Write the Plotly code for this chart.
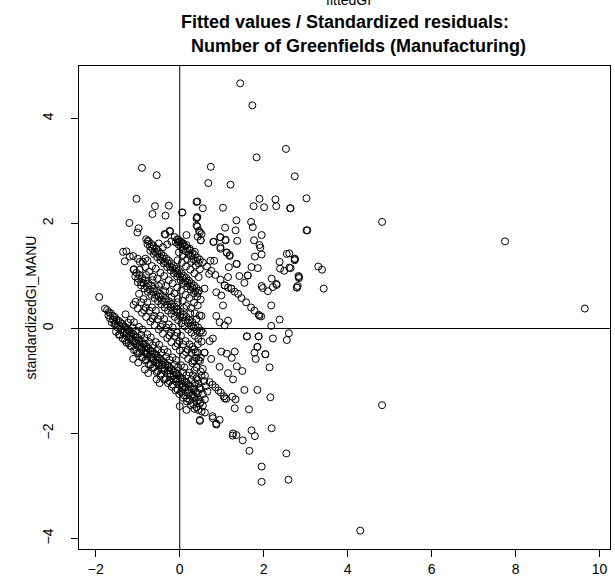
import plotly.graph_objects as go

# ---- data (fittedGI, standardizedGI_MANU) ----
band0_x = [-1.92,-1.78,-1.73,-1.69,-1.64,-1.60,-1.55,-1.51,-1.46,-1.42,-1.37,-1.33,-1.28,-1.24,-1.19,-1.15,-1.10,-1.06,-1.01,-0.97,-0.92,-0.88,-0.83,-0.79,-0.74,-0.70,-0.65,-0.61,-0.56,-0.52,-0.47,-0.43,-0.38,-0.34,-0.29,-0.25,-0.20,-0.16,-0.11,-0.07,-0.02,0.02,0.07,0.11,0.16,0.20,0.25,0.29,0.34,0.38,0.43,
           -1.62,-1.55,-1.48,-1.41,-1.34,-1.27,-1.20,-1.13,-1.06,-0.99,-0.92,-0.85,-0.78,-0.71,-0.64,-0.57,-0.50,-0.43,-0.36,-0.29,-0.22,-0.15,-0.08,-0.01,0.06,0.13,0.20,0.27,0.34,0.41,0.48,0.55,
           -1.45,-1.36,-1.27,-1.18,-1.09,-1.00,-0.91,-0.82,-0.73,-0.64,-0.55,-0.46,-0.37,-0.28,-0.19,-0.10,-0.01,0.08,0.17,0.26,0.35,0.44,0.52,0.60,
           -1.11,-0.99,-0.83,-0.75,-0.55,-0.48,0.00,0.16,0.48,0.78,0.87]
band0_y = [0.60,0.38,0.35,0.31,0.29,0.24,0.22,0.17,0.15,0.12,0.09,0.04,0.02,-0.02,-0.04,-0.09,-0.11,-0.15,-0.17,-0.22,-0.24,-0.29,-0.30,-0.35,-0.38,-0.42,-0.44,-0.48,-0.50,-0.55,-0.57,-0.61,-0.64,-0.68,-0.70,-0.74,-0.77,-0.81,-0.83,-0.87,-0.90,-0.94,-0.96,-1.01,-1.03,-1.07,-1.10,-1.14,-1.16,-1.21,-1.23,
           0.12,0.08,0.02,-0.03,-0.08,-0.14,-0.18,-0.24,-0.28,-0.34,-0.39,-0.45,-0.49,-0.55,-0.60,-0.65,-0.70,-0.76,-0.80,-0.86,-0.91,-0.97,-1.01,-1.07,-1.12,-1.17,-1.22,-1.28,-1.32,-1.38,-1.43,-1.47,
           -0.12,-0.19,-0.27,-0.33,-0.41,-0.47,-0.55,-0.61,-0.69,-0.75,-0.83,-0.90,-0.97,-1.04,-1.11,-1.18,-1.25,-1.32,-1.39,-1.46,-1.53,-1.55,-1.58,-1.60,
           -0.58,-0.65,-0.78,-0.85,-0.97,-1.04,-1.48,-1.55,-1.74,-1.67,-1.81]

band0_fill_x = [-1.70,-1.66,-1.58,-1.53,-1.44,-1.39,-1.31,-1.26,-1.17,-1.13,-1.04,-0.95,-0.90,-0.81,-0.77,-0.68,-0.63,-0.54,-0.49,-0.41,-0.36,-0.27,-0.23,-0.14,-0.09,-0.04,0.04,0.09,0.14,0.22,0.31,0.36,0.46,0.50,
                -1.52,-1.43,-1.30,-1.22,-1.15,-1.03,-0.96,-0.88,-0.80,-0.69,-0.61,-0.52,-0.45,-0.33,-0.25,-0.17,-0.05,0.03,0.10,0.17,0.24,0.32,0.40,
                -1.23,-1.12,-1.04,-0.92,-0.84,-0.72,-0.64,-0.52,-0.44,-0.32,-0.24,-0.12,-0.04,0.08,0.16,0.28,0.36,0.47,
                -1.29,-1.17,-1.09,-0.97,-0.89,-0.77,-0.69,-0.57,-0.49,-0.37,-0.29,-0.17,-0.09,0.03,0.11,0.23,0.31,0.43]
band0_fill_y = [0.25,0.19,0.16,0.09,0.06,-0.01,-0.05,-0.10,-0.14,-0.20,-0.24,-0.31,-0.36,-0.41,-0.46,-0.50,-0.56,-0.60,-0.66,-0.70,-0.76,-0.80,-0.86,-0.90,-0.96,-0.97,-1.05,-1.09,-1.12,-1.17,-1.25,-1.30,-1.36,-1.40,
                -0.06,-0.12,-0.22,-0.28,-0.34,-0.43,-0.47,-0.55,-0.59,-0.69,-0.74,-0.81,-0.86,-0.95,-1.00,-1.07,-1.16,-1.21,-1.27,-1.33,-1.37,-1.44,-1.50,
                0.11,0.02,-0.04,-0.12,-0.18,-0.26,-0.32,-0.40,-0.46,-0.54,-0.60,-0.69,-0.74,-0.84,-0.89,-0.98,-1.04,-1.13,
                0.27,0.17,0.12,0.03,-0.02,-0.11,-0.17,-0.26,-0.31,-0.40,-0.45,-0.55,-0.60,-0.70,-0.74,-0.84,-0.89,-0.98]

band1_x = [-1.10,-1.03,-0.96,-0.89,-0.82,-0.75,-0.68,-0.61,-0.54,-0.47,-0.40,-0.33,-0.26,-0.19,-0.12,-0.05,0.02,0.09,0.16,0.23,0.30,0.37,0.44,0.51,
           -1.00,-0.92,-0.84,-0.76,-0.68,-0.60,-0.52,-0.44,-0.36,-0.28,-0.20,-0.12,-0.04,0.04,0.12,0.20,0.28,0.36,0.44,0.52,
           -1.10,-1.00,-0.90,-0.80,-0.70,-0.60,-0.50,-0.40,-0.30,-0.20,-0.10,0.00,0.10,0.20,0.30,0.40,0.50,0.60,0.71,0.78,0.85,0.92,0.98,1.05,1.11,
           0.30,0.35,0.40,0.45,0.50,0.55,0.60,0.52,0.58,0.62,0.66,0.45,0.38,0.30,0.50,0.59,0.75,0.43]
band1_y = [1.12,1.06,1.02,0.96,0.92,0.86,0.82,0.76,0.72,0.66,0.62,0.56,0.52,0.46,0.42,0.36,0.32,0.26,0.22,0.16,0.12,0.06,0.02,-0.04,
           0.88,0.82,0.76,0.70,0.64,0.58,0.52,0.46,0.40,0.34,0.28,0.22,0.16,0.10,0.04,-0.02,-0.08,-0.14,-0.20,-0.25,
           0.45,0.38,0.30,0.22,0.13,0.06,-0.02,-0.10,-0.18,-0.26,-0.34,-0.42,-0.50,-0.58,-0.66,-0.74,-0.82,-0.90,-1.02,-1.07,-1.12,-1.18,-1.22,-1.29,-1.34,
           -0.62,-0.80,-0.95,-1.05,-1.15,-1.25,-1.35,-0.90,-1.00,-1.10,-1.20,-0.60,-0.45,-0.35,-0.55,-0.46,-0.58,-0.30]

band1_fill_x = [-1.06,-0.99,-0.92,-0.86,-0.78,-0.72,-0.64,-0.57,-0.50,-0.43,-0.37,-0.30,-0.22,-0.16,-0.08,0.00,0.06,0.13,0.20,0.27,0.33,0.41,0.48,
                -0.95,-0.80,-0.65,-0.50,-0.35,-0.20,-0.05,0.10,0.25,0.40,
                -1.05,-0.85,-0.65,-0.45,-0.25,-0.05,0.15,0.35,0.55,
                -0.92,-0.81,-0.72,-0.61,-0.52,-0.41,-0.32,-0.21,-0.12,-0.01,0.08,0.19,0.28,0.39,0.48,
                -0.97,-0.86,-0.77,-0.66,-0.57,-0.46,-0.37,-0.26,-0.17,-0.06,0.03,0.14,0.23,0.34,0.43]
band1_fill_y = [0.99,0.95,0.88,0.86,0.79,0.74,0.70,0.64,0.60,0.54,0.51,0.45,0.41,0.35,0.31,0.24,0.21,0.15,0.11,0.05,0.02,-0.05,-0.08,
                1.12,1.02,0.92,0.81,0.71,0.60,0.50,0.39,0.29,0.18,
                0.51,0.35,0.19,0.03,-0.13,-0.29,-0.45,-0.61,-0.77,
                0.50,0.40,0.34,0.24,0.18,0.08,0.02,-0.08,-0.14,-0.24,-0.30,-0.40,-0.46,-0.56,-0.62,
                0.66,0.56,0.50,0.40,0.34,0.24,0.18,0.08,0.02,-0.08,-0.14,-0.24,-0.30,-0.40,-0.46]

band2_x = [-0.80,-0.74,-0.68,-0.62,-0.56,-0.50,-0.44,-0.38,-0.32,-0.26,-0.20,-0.14,-0.08,-0.02,0.04,0.10,0.16,0.22,0.28,0.34,0.40,0.46,
           -0.70,-0.62,-0.54,-0.46,-0.38,-0.30,-0.22,-0.14,-0.06,0.02,0.10,0.18,0.26,0.34,0.42,0.50,
           -1.35,-1.27,-1.19,-1.11,-1.31,-1.00,-0.95,-0.88,-0.82,-0.82,-1.09,-0.76,
           0.52,0.55,0.71,0.79,0.87,0.95,1.03,1.07,1.15,1.31,1.60,1.88,1.85,2.04,1.78,1.81,2.14]
band2_y = [1.70,1.66,1.61,1.57,1.52,1.47,1.42,1.38,1.33,1.29,1.24,1.19,1.14,1.10,1.05,1.00,0.96,0.91,0.86,0.82,0.77,0.72,
           1.48,1.42,1.36,1.30,1.24,1.17,1.11,1.05,0.99,0.92,0.86,0.80,0.74,0.67,0.61,0.55,
           1.46,1.47,1.37,1.38,1.28,1.33,1.27,1.27,1.33,1.17,1.13,1.67,
           0.24,-0.08,-0.24,-0.19,0.24,0.12,0.44,0.06,0.15,-0.44,-0.15,-0.15,-0.35,-0.49,-0.46,-0.58,-0.74]

band2_fill_x = [-0.77,-0.71,-0.65,-0.59,-0.53,-0.47,-0.41,-0.35,-0.29,-0.23,-0.17,-0.11,-0.05,0.01,0.07,0.13,0.19,0.25,0.31,0.37,0.43,
                -0.73,-0.64,-0.53,-0.44,-0.33,-0.24,-0.13,-0.04,0.07,0.16,0.27,0.36,0.47,
                -0.77,-0.66,-0.57,-0.46,-0.37,-0.26,-0.17,-0.06,0.03,0.14,0.23,0.34,0.43,
                -0.05,0.05,0.15,0.25,0.35,0.45,-0.02,0.08,0.18,0.28,0.38,0.48,-0.40,-0.30,-0.20,-0.50]
band2_fill_y = [1.61,1.56,1.52,1.46,1.43,1.37,1.33,1.27,1.24,1.18,1.15,1.09,1.05,0.99,0.96,0.90,0.87,0.81,0.77,0.71,0.68,
                1.08,0.99,0.95,0.85,0.81,0.71,0.67,0.57,0.53,0.43,0.39,0.29,0.25,
                1.29,1.19,1.14,1.06,1.00,0.92,0.86,0.78,0.72,0.64,0.58,0.49,0.44,
                1.30,1.25,1.18,1.12,1.05,0.98,1.45,1.40,1.32,1.27,1.20,1.13,1.55,1.60,1.66,1.62]

band3_x = [-0.12,-0.06,0.00,0.06,0.12,0.18,0.24,0.30,0.36,0.42,0.48,0.55,0.65,0.75,0.85,0.97,1.07,1.15,1.23,1.31,1.39,1.47,1.58,1.70,1.78,1.88,1.94,
           -0.34,-0.24,0.16,0.06,0.40,0.40,0.43,-0.03,0.04,0.16,0.24,0.36,0.41,0.48,0.50,0.80,0.96,1.09,0.97,1.12,1.19,0.82,1.17,0.70,1.15,1.35,1.62,1.54,0.59,0.87,0.99,1.07,1.23,1.98,2.10,2.22,2.31,
           -0.09,-0.03,0.03,0.09,0.15,0.21,0.27,0.33,0.39,0.45]
band3_y = [1.74,1.70,1.66,1.61,1.57,1.53,1.49,1.44,1.40,1.35,1.31,1.26,1.18,1.10,1.02,0.93,0.82,0.78,0.76,0.70,0.66,0.58,0.50,0.40,0.34,0.26,0.23,
           1.79,1.86,1.78,2.21,2.10,1.96,1.75,1.69,1.65,1.59,1.52,1.46,2.12,1.83,1.68,1.65,1.74,1.68,1.52,1.45,1.38,1.29,1.17,1.04,0.98,1.23,1.01,0.87,0.76,0.69,0.63,0.82,0.76,0.77,0.71,0.79,0.83,
           1.64,1.60,1.55,1.50,1.47,1.41,1.38,1.32,1.29,1.24]

upper_x = [1.44,1.73,2.53,1.83,0.74,-0.90,-0.55,2.74,0.68,1.21,3.02,1.90,2.28,-0.59,-0.26,1.76,2.01,2.30,2.63,1.03,0.40,0.42,0.55,-0.65,-0.34,0.06,0.42,1.35,1.70,3.02,0.42,1.08,1.33,1.74,-0.36,-0.23,0.46,0.52,0.97,1.37,1.95,1.77,0.81,1.09,0.50,1.90,1.92,1.95,1.79,2.55,2.74,0.97,1.12,1.19,0.08,-0.02,-1.03,-1.20,-0.98,-1.01,
           2.64,3.04,2.61,2.74,2.74,2.64,3.30,3.39,2.84,2.84,2.79,3.43,2.38,2.39,2.49,2.61,2.19,2.83,1.95,2.30,2.81,1.71,1.86,1.62,1.36,0.73,1.42]
upper_y = [4.67,4.25,3.42,3.26,3.08,3.06,2.92,2.90,2.77,2.74,2.48,2.47,2.46,2.33,2.34,2.33,2.31,2.33,2.29,2.30,2.41,2.42,2.29,2.18,2.15,2.21,2.12,2.06,2.03,1.87,1.94,1.92,1.87,1.93,1.80,1.85,1.86,1.80,1.74,1.67,1.78,1.68,1.65,1.69,1.68,1.59,1.54,1.41,1.37,1.42,1.33,1.55,1.44,1.40,1.62,1.65,2.47,2.01,1.91,1.83,
           2.29,1.87,1.43,1.32,1.30,1.15,1.18,1.12,0.98,0.96,0.78,0.76,1.27,1.14,1.10,1.16,0.95,1.00,0.81,0.85,0.81,1.17,1.15,1.01,1.23,1.29,1.00]

lower_x = [2.79,2.18,1.90,2.38,2.18,2.60,2.55,2.22,1.88,1.60,1.85,2.04,0.59,0.99,1.12,1.24,0.95,1.36,1.15,1.49,1.27,1.54,1.85,2.16,1.25,1.33,1.65,1.31,1.07,0.79,0.95,0.48,0.87,1.27,1.35,1.71,1.79,2.19,1.50,
           1.95,1.95,2.54,2.59,1.66,1.26,4.30,4.82,4.82,7.75,9.65]
lower_y = [0.78,0.44,0.24,0.17,0.05,-0.09,-0.22,-0.19,-0.15,-0.15,-0.35,-0.49,-0.46,-0.44,-0.48,-0.56,-0.73,-0.72,-0.85,-0.81,-0.97,-1.17,-1.17,-1.31,-1.30,-1.35,-1.54,-1.52,-1.33,-1.71,-1.74,-1.76,-1.83,-2.00,-2.03,-1.94,-2.05,-1.90,-2.13,
           -2.63,-2.92,-2.38,-2.88,-2.33,-2.04,-3.85,2.03,-1.46,1.66,0.38]

xs = band0_x + band0_fill_x + band1_x + band1_fill_x + band2_x + band2_fill_x + band3_x + upper_x + lower_x
ys = band0_y + band0_fill_y + band1_y + band1_fill_y + band2_y + band2_fill_y + band3_y + upper_y + lower_y

x_ticks = [-2, 0, 2, 4, 6, 8, 10]
y_ticks = [-4, -2, 0, 2, 4]

FONT = "Liberation Sans, Arial, Helvetica, sans-serif"

fig = go.Figure()
fig.add_trace(go.Scatter(
    x=xs, y=ys, mode="markers",
    marker=dict(symbol="circle-open", size=7, color="black", line=dict(width=1, color="black")),
    showlegend=False, hoverinfo="x+y"))

fig.add_hline(y=0, line=dict(color="black", width=1))
fig.add_vline(x=0, line=dict(color="black", width=1))

fig.update_layout(
    width=615, height=582,
    margin=dict(l=79, r=5, t=66, b=33),
    paper_bgcolor="white", plot_bgcolor="white",
    font=dict(family=FONT, color="black", size=14),
    xaxis=dict(range=[-2.4, 10.25], tickvals=x_ticks, ticks="outside", ticklen=7,
               tickcolor="black", showline=True, mirror=True, linecolor="black",
               linewidth=1, showgrid=False, zeroline=False, tickfont=dict(size=14)),
    yaxis=dict(range=[-4.2, 5.0], tickvals=y_ticks, ticks="outside", ticklen=7,
               tickcolor="black", showline=True, mirror=True, linecolor="black",
               linewidth=1, showgrid=False, zeroline=False, tickangle=-90,
               ticklabelstandoff=12, tickfont=dict(size=14)),
    annotations=[
        dict(text="<b>Fitted values / Standardized residuals:</b>", xref="paper", yref="paper",
             x=(345-79)/531, y=(549-21.6)/483, xanchor="center", yanchor="middle", showarrow=False,
             font=dict(size=18, family=FONT)),
        dict(text="<b>Number of Greenfields (Manufacturing)</b>", xref="paper", yref="paper",
             x=(358-79)/531, y=(549-46)/483, xanchor="center", yanchor="middle", showarrow=False,
             font=dict(size=18, family=FONT)),
        dict(text="fittedGI", xref="paper", yref="paper",
             x=(348-79)/531, y=(549-0)/483, xanchor="center", yanchor="middle", showarrow=False,
             font=dict(size=14, family=FONT)),
        dict(text="standardizedGI_MANU", xref="paper", yref="paper", textangle=-90,
             x=(30-79)/531, y=0.5, xanchor="center", yanchor="middle", showarrow=False,
             font=dict(size=14, family=FONT)),
    ],
)

fig.write_html("out.html")
